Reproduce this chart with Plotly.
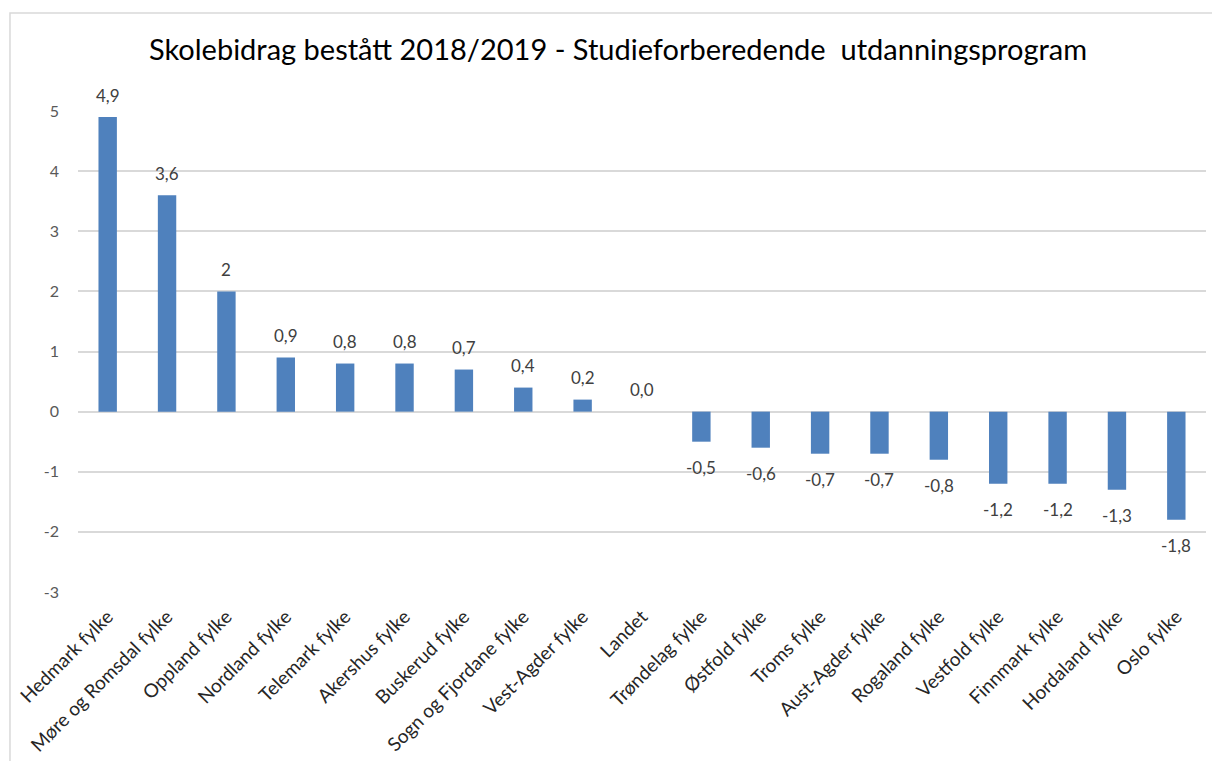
import plotly.graph_objects as go

categories = ["Hedmark fylke", "Møre og Romsdal fylke", "Oppland fylke", "Nordland fylke",
              "Telemark fylke", "Akershus fylke", "Buskerud fylke", "Sogn og Fjordane fylke",
              "Vest-Agder fylke", "Landet", "Trøndelag fylke", "Østfold fylke", "Troms fylke",
              "Aust-Agder fylke", "Rogaland fylke", "Vestfold fylke", "Finnmark fylke",
              "Hordaland fylke", "Oslo fylke"]
values = [4.9, 3.6, 2.0, 0.9, 0.8, 0.8, 0.7, 0.4, 0.2, 0.0, -0.5, -0.6, -0.7, -0.7, -0.8,
          -1.2, -1.2, -1.3, -1.8]
labels = ["4,9", "3,6", "2", "0,9", "0,8", "0,8", "0,7", "0,4", "0,2", "0,0", "-0,5", "-0,6",
          "-0,7", "-0,7", "-0,8", "-1,2", "-1,2", "-1,3", "-1,8"]
y_ticks = [-3, -2, -1, 0, 1, 2, 3, 4, 5]

FONT = "Lato, 'Noto Sans', sans-serif"

fig = go.Figure(go.Bar(
    x=categories, y=values,
    marker=dict(color="#4f81bd", line=dict(width=0)),
    width=0.31,
))

for cat, val, lab in zip(categories, values, labels):
    fig.add_annotation(x=cat, y=val, text=lab, showarrow=False,
                       xanchor="center", yanchor="middle",
                       yshift=22 if val >= 0 else -26,
                       font=dict(size=17, color="#404040", family=FONT))

fig.update_layout(
    width=1220, height=761,
    margin=dict(l=70, r=22, t=103, b=177, autoexpand=False),
    paper_bgcolor="white", plot_bgcolor="white",
    title=dict(text="Skolebidrag bestått 2018/2019 - Studieforberedende  utdanningsprogram",
               x=0.5, xanchor="center", y=0.945, yanchor="middle",
               font=dict(size=29, color="#000000", family=FONT)),
    font=dict(family=FONT),
    showlegend=False,
)
fig.update_yaxes(range=[-3, 5], tickvals=y_ticks, ticktext=[str(v) for v in y_ticks],
                 showgrid=True, gridcolor="#d9d9d9", gridwidth=1.5,
                 zeroline=True, zerolinecolor="#d9d9d9", zerolinewidth=1.5,
                 showline=False, ticks="", ticklabelstandoff=18, automargin=False,
                 tickfont=dict(size=16, color="#595959", family=FONT))
fig.update_xaxes(tickangle=-45, showline=False, showgrid=False, ticks="",
                 ticklabelstandoff=9, automargin=False,
                 tickfont=dict(size=19, color="#262626", family=FONT))

fig.add_shape(type="rect", xref="paper", yref="paper",
              x0=-0.0603, x1=1.03, y0=-0.4, y1=1.204,
              line=dict(color="#d9d9d9", width=1.5), fillcolor="rgba(0,0,0,0)", layer="below")

fig.write_html("out.html")
